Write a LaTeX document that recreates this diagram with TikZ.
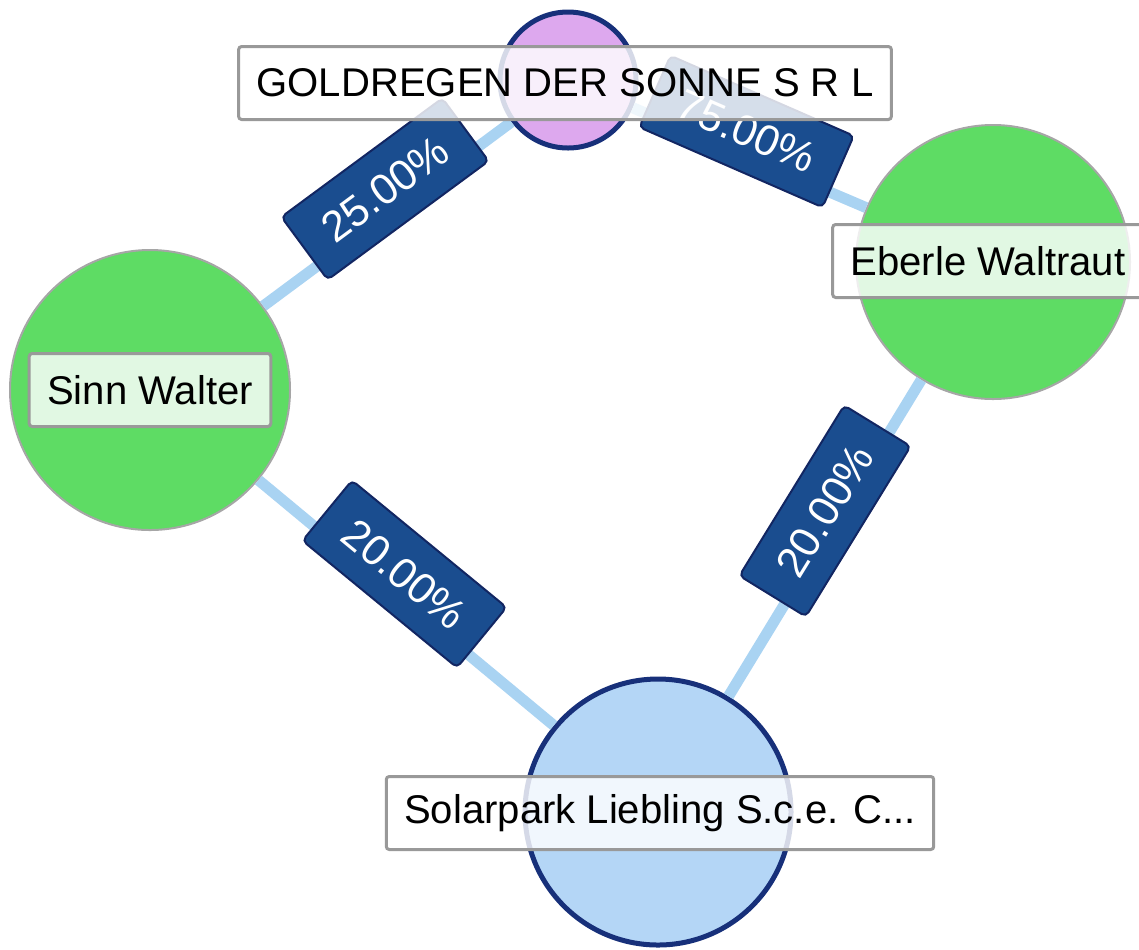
\documentclass[tikz,border=0pt]{standalone}
\usepackage{fontspec}
\setmainfont{Liberation Sans}

\definecolor{edgeblue}{HTML}{A9D3F2}
\definecolor{tagblue}{HTML}{1A4D8F}
\definecolor{navy}{HTML}{17307A}
\definecolor{pgreen}{HTML}{5EDC64}
\definecolor{gviolet}{HTML}{DDA8EE}
\definecolor{sblue}{HTML}{B4D6F6}

\tikzset{
  person/.style={circle,fill=pgreen,draw=gray!70,line width=0.04cm,minimum size=#1,inner sep=0pt},
  firm/.style={circle,draw=navy,line width=0.1cm,minimum size=#1,inner sep=0pt},
  link/.style={edgeblue,line width=0.22cm},
  share/.style={rectangle,rounded corners=0.1cm,fill=tagblue,draw=navy!80!black,line width=0.04cm,
    text=white,minimum width=4cm,minimum height=1.56cm,inner sep=0pt,font=\fontsize{24.5}{28}\selectfont},
  tag/.style={rectangle,rounded corners=0.06cm,fill=white,fill opacity=0.82,text opacity=1,
    draw=gray!80,line width=0.06cm,minimum height=1.46cm,inner xsep=0.36cm}
}

\begin{document}
\begin{tikzpicture}[font=\fontsize{22.8}{27}\selectfont]
  \useasboundingbox (0,0) rectangle (22.78,-18.98);
  % owners and firms
  \node[firm=2.72cm,fill=gviolet] (g) at (11.36,-1.6) {};
  \node[person=5.6cm] (sinn) at (3.0,-7.8) {};
  \node[person=5.48cm] (eberle) at (19.86,-5.24) {};
  \node[firm=5.32cm,fill=sblue] (solar) at (13.16,-16.24) {};
  % holdings
  \draw[link] (sinn) -- (g);
  \draw[link] (g) -- (eberle);
  \draw[link] (sinn) -- (solar);
  \draw[link] (eberle) -- (solar);
  \node[share,rotate=36.4] (s1) at (7.7,-3.78) {25.00\%};
  \node[share,rotate=-23.6] (s2) at (14.93,-2.63) {75.00\%};
  \node[share,rotate=-39.4] (s3) at (8.09,-11.48) {20.00\%};
  \node[share,rotate=58.4] (s4) at (16.5,-10.22) {20.00\%};
  % names
  \node[tag] (gname) at (11.3,-1.66) {GOLDREGEN DER SONNE S R L};
  \node[tag] (sinnname) at (sinn) {Sinn Walter};
  \node[tag] (eberlename) at (19.76,-5.22) {Eberle Waltraut};
  \node[tag] (solarname) at (13.2,-16.26) {Solarpark Liebling S.c.e. C...};
\end{tikzpicture}
\end{document}
